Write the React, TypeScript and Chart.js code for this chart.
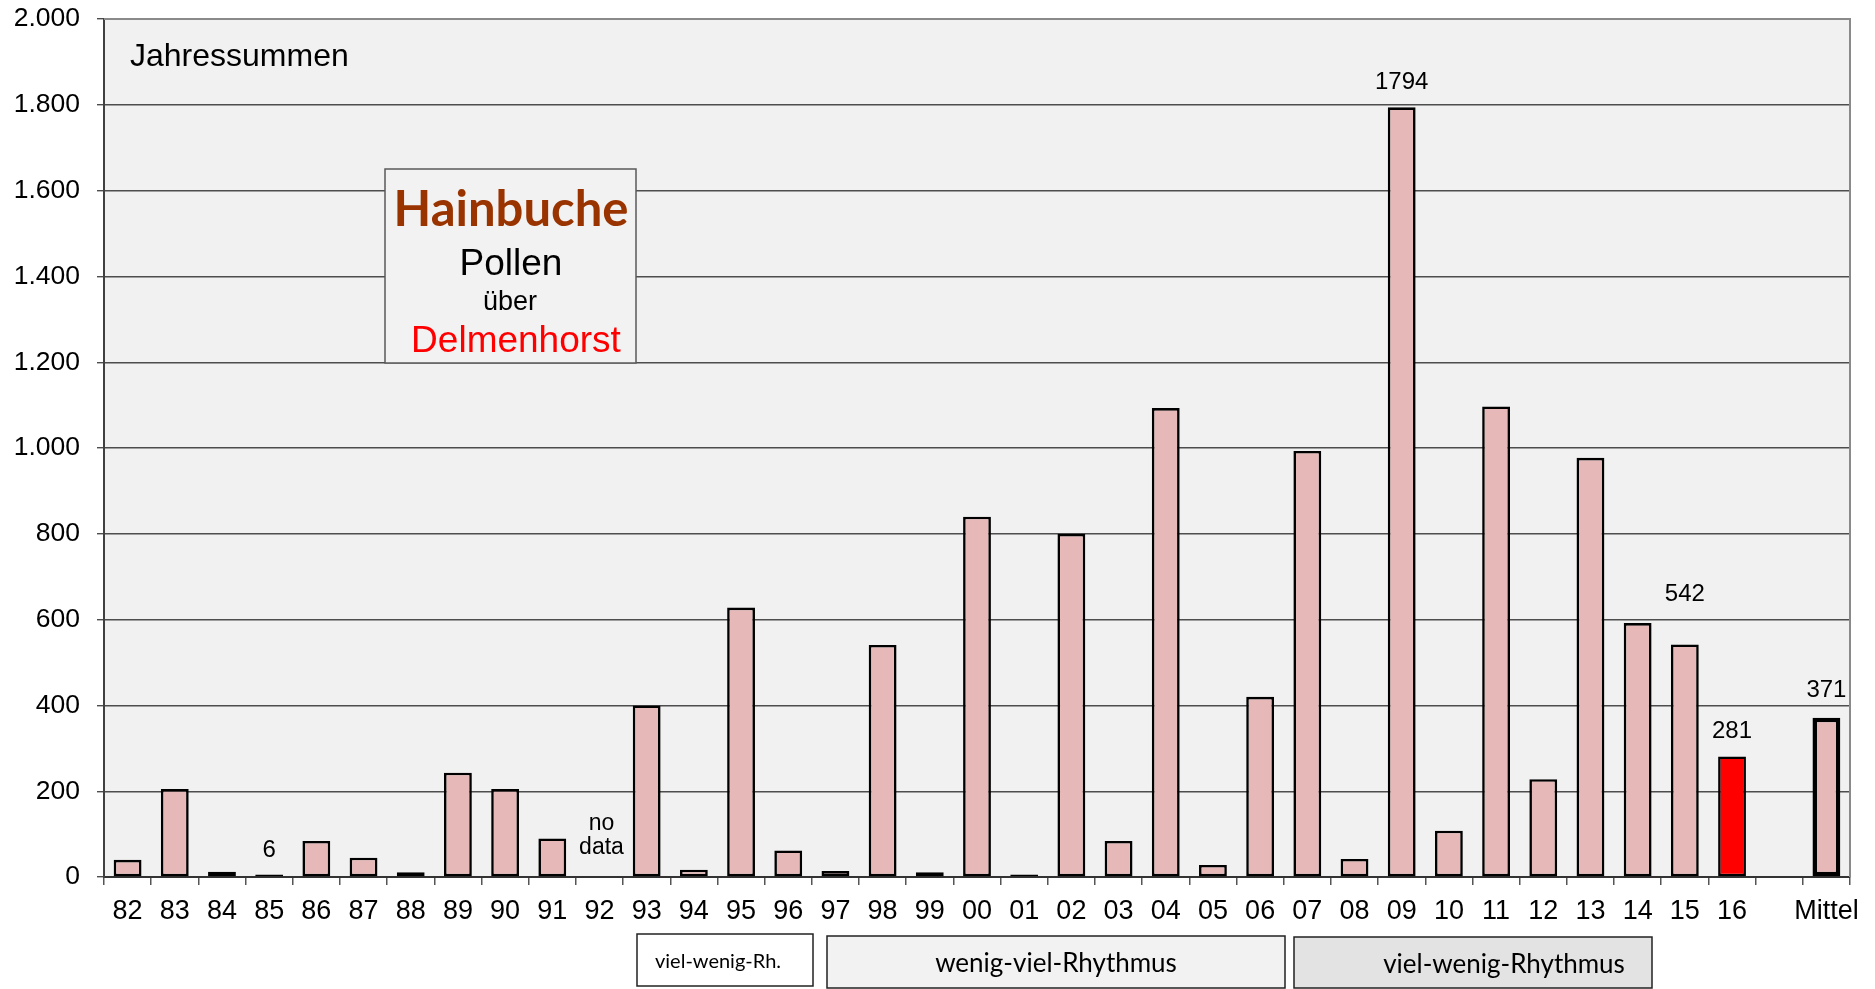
import React, { useEffect, useRef } from 'react';
import { Chart, registerables } from 'chart.js';

Chart.register(...registerables);

const years = ['82','83','84','85','86','87','88','89','90','91','92','93','94','95','96','97','98','99','00','01','02','03','04','05','06','07','08','09','10','11','12','13','14','15','16'];
const categories = [...years, '', 'Mittel'];
const values: (number | null)[] = [
  40, 205, 12, 6, 84, 45, 11, 243, 205, 90, null, 400, 17, 628, 62, 14, 541, 11,
  840, 6, 800, 84, 1093, 28, 420, 993, 42, 1794, 108, 1097, 228, 977, 592, 542, 281,
  null, 371,
];
const highlightCategory = '16';
const meanCategory = 'Mittel';
const yTicks = [0, 200, 400, 600, 800, 1000, 1200, 1400, 1600, 1800, 2000];
const labelledCategories = ['85', '09', '15', '16', 'Mittel'];
const labelLift = [24, 25, 50, 25, 27];
const noDataCategory = '92';

const W = 1875;
const H = 989;

function fmt(v: number) {
  return v.toString().replace(/\B(?=(\d{3})+(?!\d))/g, '.');
}

const overlay = {
  id: 'overlay',
  beforeDraw(chart: any) {
    const { ctx, chartArea: a } = chart;
    ctx.save();
    ctx.fillStyle = '#F1F1F1';
    ctx.fillRect(a.left, a.top, a.right - a.left, a.bottom - a.top);
    ctx.restore();
  },
  afterDraw(chart: any) {
    const { ctx, chartArea: a } = chart;
    const meta = chart.getDatasetMeta(0);
    ctx.save();
    ctx.strokeStyle = '#8a8a8a';
    ctx.lineWidth = 2;
    ctx.beginPath();
    ctx.moveTo(a.left, a.top);
    ctx.lineTo(a.right, a.top);
    ctx.lineTo(a.right, a.bottom);
    ctx.stroke();

    ctx.fillStyle = '#000';
    ctx.font = '24px "Liberation Sans", Arial, sans-serif';
    ctx.textAlign = 'center';
    ctx.textBaseline = 'middle';
    labelledCategories.forEach((c, i) => {
      const idx = categories.indexOf(c);
      const el = meta.data[idx];
      const v = values[idx];
      if (!el || v == null) return;
      ctx.fillText(String(v), el.x, el.y - labelLift[i]);
    });
    const ndIdx = categories.indexOf(noDataCategory);
    const ndX = chart.scales.x.getPixelForValue(ndIdx);
    ctx.font = '23px "Liberation Sans", Arial, sans-serif';
    ctx.fillText('no', ndX + 2, a.bottom - 53);
    ctx.fillText('data', ndX + 2, a.bottom - 29);

    ctx.textAlign = 'left';
    ctx.textBaseline = 'alphabetic';
    ctx.font = '32px "Liberation Sans", Arial, sans-serif';
    ctx.fillText('Jahressummen', 130, 66);

    ctx.fillStyle = '#F2F2F2';
    ctx.fillRect(385, 169, 251, 194);
    ctx.strokeStyle = '#595959';
    ctx.lineWidth = 1.5;
    ctx.strokeRect(385, 169, 251, 194);
    ctx.textAlign = 'center';
    ctx.fillStyle = '#993300';
    ctx.font = 'bold 49px Lato, sans-serif';
    ctx.fillText('Hainbuche', 511, 226);
    ctx.fillStyle = '#000';
    ctx.font = '37px "Liberation Sans", Arial, sans-serif';
    ctx.fillText('Pollen', 511, 275);
    ctx.font = '27px "Liberation Sans", Arial, sans-serif';
    ctx.fillText('über', 510, 310);
    ctx.fillStyle = '#FF0000';
    ctx.font = '37px "Liberation Sans", Arial, sans-serif';
    ctx.fillText('Delmenhorst', 516, 352);

    const boxes = [
      { x: 637, y: 934, w: 176, h: 52, fill: '#FFFFFF', text: 'viel-wenig-Rh.', tx: 718, ty: 962, size: 20 },
      { x: 827, y: 936, w: 458, h: 52, fill: '#F2F2F2', text: 'wenig-viel-Rhythmus', tx: 1056, ty: 964, size: 26 },
      { x: 1294, y: 937, w: 358, h: 51, fill: '#E3E3E3', text: 'viel-wenig-Rhythmus', tx: 1504, ty: 965, size: 26 },
    ];
    boxes.forEach((b) => {
      ctx.fillStyle = b.fill;
      ctx.fillRect(b.x, b.y, b.w, b.h);
      ctx.strokeStyle = '#222';
      ctx.lineWidth = 1.5;
      ctx.strokeRect(b.x, b.y, b.w, b.h);
      ctx.fillStyle = '#000';
      ctx.font = `${b.size}px Lato, sans-serif`;
      ctx.textAlign = 'center';
      ctx.textBaseline = 'middle';
      ctx.fillText(b.text, b.tx, b.ty);
    });
    ctx.restore();
  },
};

export default function App() {
  const ref = useRef<HTMLCanvasElement | null>(null);
  useEffect(() => {
    if (!ref.current) return;
    const chart = new Chart(ref.current, {
      type: 'bar',
      data: {
        labels: categories,
        datasets: [
          {
            data: values as any,
            backgroundColor: categories.map((c) => (c === highlightCategory ? '#FF0000' : '#E6B9B8')),
            borderColor: '#000000',
            borderWidth: categories.map((c) => (c === meanCategory ? 4.5 : 2.6)) as any,
            borderSkipped: false,
            barPercentage: 0.59,
            categoryPercentage: 1,
          },
        ],
      },
      options: {
        responsive: false,
        animation: false,
        devicePixelRatio: 1,
        layout: { padding: { top: 19, right: 25, left: 0, bottom: 0 } },
        plugins: { legend: { display: false }, tooltip: { enabled: false } },
        scales: {
          x: {
            offset: true,
            grid: {
              offset: true,
              drawOnChartArea: false,
              drawTicks: true,
              tickLength: 8,
              color: '#555555',
              lineWidth: 1.5,
            },
            border: { display: true, color: '#333333', width: 2 },
            ticks: {
              color: '#000',
              font: { family: '"Liberation Sans", Arial, sans-serif', size: 27 },
              padding: 10,
              maxRotation: 0,
              autoSkip: false,
            },
            afterFit: (s: any) => { s.height = H - 877; s.paddingLeft = 0; s.paddingRight = 0; },
          },
          y: {
            min: 0,
            max: 2000,
            afterBuildTicks: (s: any) => { s.ticks = yTicks.map((v) => ({ value: v })); },
            grid: { color: '#4d4d4d', lineWidth: 1.4, tickLength: 7 },
            border: { display: true, color: '#404040', width: 2 },
            ticks: {
              color: '#000',
              font: { family: '"Liberation Sans", Arial, sans-serif', size: 26.5 },
              padding: 17,
              callback: (v: any) => fmt(Number(v)),
            },
            afterFit: (s: any) => { s.width = 104; s.paddingTop = 0; s.paddingBottom = 0; },
          },
        },
      },
      plugins: [overlay],
    });
    return () => chart.destroy();
  }, []);
  return (
    <div style={{ position: 'fixed', left: 0, top: 0, width: W, height: H, background: '#fff' }}>
      <canvas ref={ref} width={W} height={H} style={{ width: W, height: H, display: 'block' }} />
    </div>
  );
}
